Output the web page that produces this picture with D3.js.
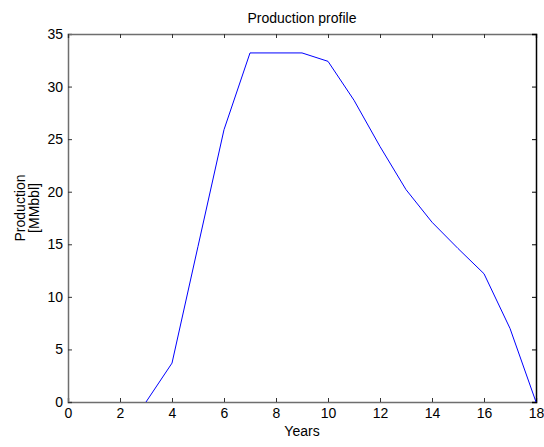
<!DOCTYPE html>
<html>
<head>
<meta charset="utf-8">
<script src="https://cdn.jsdelivr.net/npm/d3@7"></script>
<style>
  html, body { margin: 0; padding: 0; background: #fff; }
  svg { display: block; }
  text { font-family: "Liberation Sans", Arial, sans-serif; fill: #000; }
</style>
</head>
<body>
<svg id="chart" width="544" height="447"></svg>
<script>
// Yearly production profile
const years = [3, 4, 5, 6, 7, 8, 9, 10, 11, 12, 13, 14, 15, 16, 17, 18];
const production = [0, 3.7, 14.8, 25.9, 33.2, 33.2, 33.2, 32.4, 28.7, 24.3, 20.2, 17.1, 14.6, 12.2, 7.0, 0];
const xTicks = [0, 2, 4, 6, 8, 10, 12, 14, 16, 18];
const yTicks = [0, 5, 10, 15, 20, 25, 30, 35];

const svg = d3.select("#chart");
const plotLeft = 68, plotRight = 536, plotTop = 34, plotBottom = 402;

const x = d3.scaleLinear().domain([0, 18]).range([plotLeft, plotRight]);
const y = d3.scaleLinear().domain([0, 35]).range([plotBottom, plotTop]);

const axisColor = "#6e6e6e";
const tickLen = 4;

// Title
svg.append("text")
  .attr("x", 302).attr("y", 23)
  .attr("text-anchor", "middle")
  .style("font-size", "14px")
  .text("Production profile");

// Bottom axis (ticks inward)
const gx = svg.append("g").attr("transform", `translate(0,${plotBottom})`)
  .call(d3.axisBottom(x).tickValues(xTicks).tickSize(-tickLen).tickPadding(6).tickFormat(d3.format("d")));
// Left axis
const gy = svg.append("g").attr("transform", `translate(${plotLeft},0)`)
  .call(d3.axisLeft(y).tickValues(yTicks).tickSize(-tickLen).tickPadding(5).tickFormat(d3.format("d")));
// Top and right mirrored ticks
const gt = svg.append("g").attr("transform", `translate(0,${plotTop})`)
  .call(d3.axisTop(x).tickValues(xTicks).tickSize(-tickLen).tickFormat(""));
const gr = svg.append("g").attr("transform", `translate(${plotRight},0)`)
  .call(d3.axisRight(y).tickValues(yTicks).tickSize(-tickLen).tickFormat(""));

[gx, gy, gt].forEach(g => {
  g.select(".domain").attr("stroke", axisColor).attr("stroke-width", 1.5);
  g.selectAll(".tick line").attr("stroke", "#333");
});
gr.select(".domain").attr("stroke", "#000").attr("stroke-width", 1.5);
gr.selectAll(".tick line").attr("stroke", "#000");

[gx, gy].forEach(g => {
  g.selectAll(".tick text")
    .attr("fill", "#000")
    .style("font-size", "14px")
    .style("font-family", "\"Liberation Sans\", Arial, sans-serif");
});

// Axis labels
svg.append("text")
  .attr("x", 302).attr("y", 436)
  .attr("text-anchor", "middle")
  .style("font-size", "14px")
  .text("Years");

const yl = svg.append("text")
  .attr("transform", `translate(25,208) rotate(-90)`)
  .attr("text-anchor", "middle")
  .style("font-size", "14px");
yl.append("tspan").attr("x", 0).attr("dy", 0).text("Production");
yl.append("tspan").attr("x", 0).attr("dy", 14).text("[MMbbl]");

// Production curve
const line = d3.line().x((d, i) => x(years[i])).y(d => y(d));
svg.append("path")
  .datum(production)
  .attr("fill", "none")
  .attr("stroke", "#0000ff")
  .attr("stroke-width", 1)
  .attr("d", line);
</script>
</body>
</html>
